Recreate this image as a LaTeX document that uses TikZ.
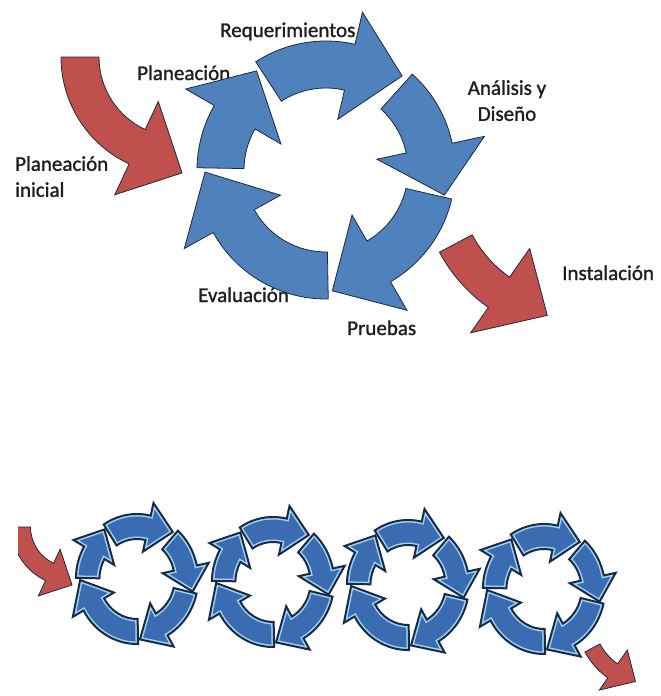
\documentclass[tikz,border=0pt]{standalone}
\usepackage{fontspec}
\setmainfont{Carlito}
\newfontfamily\etiqfont{Carlito}[FakeBold=1.2]
\usepackage{tikz}
\usetikzlibrary{positioning}

\definecolor{azul}{HTML}{4F81BD}
\definecolor{rojo}{HTML}{C0504D}
\definecolor{borde}{HTML}{1F2A38}
\definecolor{azulosc}{HTML}{3B6CB2}
\definecolor{celeste}{HTML}{9BD4F2}
\definecolor{marino}{HTML}{1A2A44}
\definecolor{texto}{HTML}{1E1E1E}

% flecha curva: cola, hombro, punta (grados), r int, r ext, ala int, ala ext, r punta
\newcommand{\flechacurva}[8]{(#1:#5) arc[start angle=#1, end angle=#2, radius=#5] -- (#2:#7) -- (#3:#8) -- (#2:#6) -- (#2:#4) arc[start angle=#2, end angle=#1, radius=#4] -- cycle}

\tikzset{
  ciclo/.style={fill=azul, draw=borde, line width=0.8pt},
  rojoflecha/.style={fill=rojo, draw=borde, line width=0.8pt},
  etiqueta/.style={inner sep=0pt, font=\etiqfont\fontsize{21}{26}\selectfont, text=texto}
}

\begin{document}
\begin{tikzpicture}[x=1pt, y=1pt]
\useasboundingbox (0,0) rectangle (661,-696);

% Etiquetas
\node[etiqueta, anchor=base west] (req) at (220,-37) {Requerimientos};
\node[etiqueta, anchor=base west] (pla) at (137,-80) {Planeación};
\node[etiqueta, align=center, anchor=north] (ana) at (507,-80) {Análisis y\\Diseño};
\node[etiqueta, align=left, anchor=north west] (ini) at (15,-156) {Planeación\\inicial};
\node[etiqueta, anchor=base west] (eva) at (198,-302) {Evaluación};
\node[etiqueta, anchor=base west] (pru) at (347,-335) {Pruebas};
\node[etiqueta, anchor=base west] (ins) at (562,-280) {Instalación};

% Ciclo principal
\begin{scope}[shift={(326,-170)}]
  \foreach \co/\ho/\pu in {123/77/51, 48/12/-12, -13/-60/-87, -89/-151/-179, 179/150/125}
    \filldraw[ciclo] \flechacurva{\co}{\ho}{\pu}{82}{129}{52}{162}{121};
\end{scope}

% Entrada y salida
\filldraw[rojoflecha, shift={(179,-57)}] \flechacurva{180}{245}{271.5}{80}{118}{49}{152}{116};
\filldraw[rojoflecha, shift={(579,-178)}] \flechacurva{208}{235}{257}{121}{158}{86}{189}{141};

% Ciclos pequenos
\foreach \cx/\cy in {137/-579, 273/-582, 408/-585, 544/-589} {
  \begin{scope}[shift={(\cx,\cy)}, xscale=0.47, yscale=0.5]
    \foreach \co/\ho/\pu in {123/77/51, 48/12/-12, -13/-60/-87, -89/-151/-179, 179/150/125} {
      \begin{scope}
        \clip \flechacurva{\co}{\ho}{\pu}{80}{130}{56}{156}{121};
        \fill[azulosc] \flechacurva{\co}{\ho}{\pu}{80}{130}{56}{156}{121};
        \draw[celeste, line width=5pt] \flechacurva{\co}{\ho}{\pu}{80}{130}{56}{156}{121};
      \end{scope}
      \draw[marino, line width=2pt] \flechacurva{\co}{\ho}{\pu}{80}{130}{56}{156}{121};
    }
  \end{scope}
}

% Flechas rojas pequenas
\begin{scope}
  \clip (18,-500) rectangle (120,-620);
  \filldraw[rojoflecha, shift={(70.5,-527)}] \flechacurva{180}{245}{271.5}{40}{59}{24.5}{76}{58};
\end{scope}
\filldraw[rojoflecha, shift={(650.3,-617.2)}] \flechacurva{208}{235}{257}{57}{74}{40}{89}{66};
\end{tikzpicture}
\end{document}
